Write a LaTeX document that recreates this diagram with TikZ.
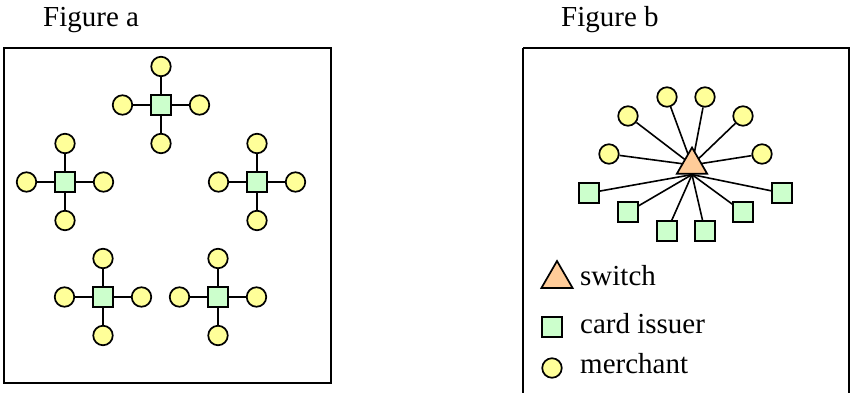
\documentclass[tikz,border=0pt]{standalone}
\usepackage{fontspec}
\setmainfont{Liberation Serif}
\newfontfamily\timesfont{Liberation Serif}
\usetikzlibrary{shapes.geometric,backgrounds}

\definecolor{merchantyellow}{HTML}{FFFF99}
\definecolor{issuergreen}{HTML}{CCFFCC}
\definecolor{switchorange}{HTML}{FFCC99}

\tikzset{
  merchant/.style={circle, draw, line width=1.7pt, fill=merchantyellow, minimum size=19.5pt, inner sep=0pt},
  issuer/.style={rectangle, draw, line width=1.7pt, fill=issuergreen, minimum size=19.5pt, inner sep=0pt},
  switchnode/.style={regular polygon, regular polygon sides=3, draw, line width=1.7pt, fill=switchorange, minimum size=35pt, inner sep=0pt},
  label/.style={anchor=base west, inner sep=0pt, font=\timesfont\fontsize{29}{34}\selectfont},
  link/.style={line width=1.6pt},
  frame/.style={line width=1.8pt}
}

\begin{document}
\begin{tikzpicture}[x=1pt,y=-1pt]
  \useasboundingbox (0,0) rectangle (850,392);

  % figure a
  \node[label] (titlea) at (43,26) {Figure a};
  \draw[frame] (4,48) rectangle (331,383);
  \foreach \n/\x/\y in {a/161/105, b/65/182, c/257/182, d/103/297, e/218/297} {
    \node[issuer] (\n) at (\x,\y) {};
    \node[merchant] (\n1) at (\x,\y-38.5) {};
    \node[merchant] (\n2) at (\x-38.5,\y) {};
    \node[merchant] (\n3) at (\x+38.5,\y) {};
    \node[merchant] (\n4) at (\x,\y+38.5) {};
    \foreach \k in {1,...,4}
      \draw[link] (\n) -- (\n\k);
  }

  % figure b
  \node[label] (titleb) at (561,26) {Figure b};
  \draw[frame] (523,48) -- (849,48) -- (849,400);
  \draw[frame] (523,48) -- (523,400);

  \node[switchnode] (sw) at (692,165) {};
  \foreach \i/\x/\y in {1/609/154, 2/628/116, 3/667/97, 4/705/97, 5/743/116, 6/762/154}
    \node[merchant] (m\i) at (\x,\y) {};
  \foreach \i/\x/\y in {1/589/193, 2/628/212, 3/667/231, 4/705/231, 5/743/212, 6/782/193}
    \node[issuer] (i\i) at (\x,\y) {};
  \begin{scope}[on background layer]
    \foreach \i in {1,...,6} {
      \draw[link] (m\i) -- (sw.center);
      \draw[link] (i\i) -- (sw.side 2);
    }
  \end{scope}

  % legend
  \node[switchnode, minimum size=36pt] (legsw) at (557,279) {};
  \node[label] (txtsw) at (580,285) {switch};
  \node[issuer] (legis) at (552,327) {};
  \node[label] (txtis) at (580,333) {card issuer};
  \node[merchant] (legme) at (552,368) {};
  \node[label] (txtme) at (580,373) {merchant};
\end{tikzpicture}
\end{document}
